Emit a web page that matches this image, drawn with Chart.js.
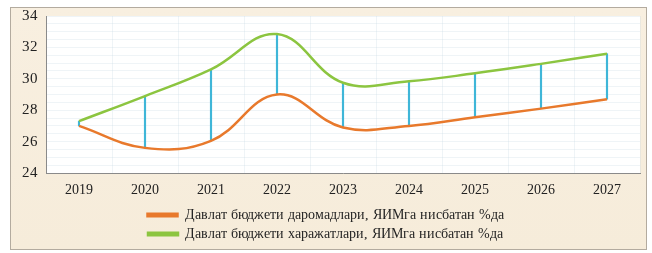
<!DOCTYPE html>
<html>
<head>
<meta charset="utf-8">
<script src="https://cdn.jsdelivr.net/npm/chart.js@4"></script>
<style>
    @font-face {
        font-family: "ChartSerif";
        src: local("Liberation Serif"), local("LiberationSerif"), local("Liberation Serif Regular"), local("Times New Roman");
    }
    body { margin: 0; background: #ffffff; }
    #frame {
        position: absolute;
        left: 10px;
        top: 7px;
        width: 635px;
        height: 241px;
        border: 1px solid #b3ab9f;
        background: linear-gradient(180deg, #f8efe0 0%, #f6ecda 100%);
    }
    #mainChart { position: absolute; left: 11px; top: 8px; }
</style>
</head>
<body>
<div id="frame"></div>
<canvas id="mainChart" width="635" height="243"></canvas>
<script>
const years = ["2019", "2020", "2021", "2022", "2023", "2024", "2025", "2026", "2027"];
const revenue = [27.0, 25.6, 26.05, 29.0, 26.9, 27.0, 27.55, 28.1, 28.7];
const spending = [27.3, 28.9, 30.6, 32.85, 29.75, 29.85, 30.35, 30.95, 31.6];
const revenueLabel = "Давлат бюджети даромадлари, ЯИМга нисбатан %да";
const spendingLabel = "Давлат бюджети харажатлари, ЯИМга нисбатан %да";

const serif = "ChartSerif, \"Liberation Serif\", serif";
let chartInstance;

// white plot area like in the original
const plotBg = {
    id: "plotBg",
    beforeDraw(chart) {
        const a = chart.chartArea;
        const ctx = chart.ctx;
        ctx.save();
        ctx.fillStyle = "#ffffff";
        ctx.fillRect(a.left, a.top, a.right - a.left, a.bottom - a.top);
        ctx.restore();
    }
};

function initChart() {
    if (chartInstance) return;
    Chart.defaults.font.family = serif;

    chartInstance = new Chart(document.getElementById("mainChart"), {
        type: "line",
        data: {
            labels: years,
            datasets: [
                {
                    label: revenueLabel,
                    data: revenue,
                    borderColor: "#e8792c",
                    backgroundColor: "#e8792c",
                    borderWidth: 2.5,
                    pointRadius: 0,
                    tension: 0.4,
                    order: 1
                },
                {
                    label: spendingLabel,
                    data: spending,
                    borderColor: "#8cc540",
                    backgroundColor: "#8cc540",
                    borderWidth: 2.5,
                    pointRadius: 0,
                    tension: 0.4,
                    order: 1
                },
                {
                    type: "bar",
                    label: "drop",
                    data: years.map((y, i) => [revenue[i], spending[i]]),
                    backgroundColor: "#3fb6d8",
                    barThickness: 1.5,
                    borderWidth: 0,
                    order: 2
                }
            ]
        },
        options: {
            responsive: false,
            animation: false,
            layout: { padding: { left: 0, right: 6, top: 8, bottom: 0 } },
            plugins: {
                tooltip: { enabled: false },
                legend: {
                    position: "bottom",
                    labels: {
                        filter: item => item.text !== "drop",
                        boxWidth: 30,
                        boxHeight: 2.5,
                        padding: 5,
                        color: "#222",
                        font: { family: serif, size: 14 }
                    }
                }
            },
            scales: {
                x: {
                    offset: true,
                    grid: { color: "rgba(190,210,225,0.25)", drawTicks: false },
                    border: { color: "#8a8a8a", width: 1 },
                    ticks: {
                        color: "#222",
                        padding: 9,
                        font: { family: serif, size: 14 }
                    },
                    afterFit: s => { s.height = 30; s.paddingLeft = 0; s.paddingRight = 0; }
                },
                y: {
                    min: 24,
                    max: 34,
                    grid: { color: "rgba(190,210,225,0.25)", drawTicks: false },
                    border: { color: "#8a8a8a", width: 1 },
                    ticks: {
                        stepSize: 0.5,
                        autoSkip: false,
                        color: "#222",
                        padding: 8,
                        font: { family: serif, size: 15 },
                        callback: v => (v % 2 === 0 ? v : "")
                    },
                    afterFit: s => { s.width = 35; s.paddingTop = 0; s.paddingBottom = 0; }
                }
            }
        },
        plugins: [plotBg]
    });
}

document.fonts.load("14px ChartSerif", "Давлат 2019").then(initChart, initChart);
setTimeout(initChart, 300);
</script>
</body>
</html>
